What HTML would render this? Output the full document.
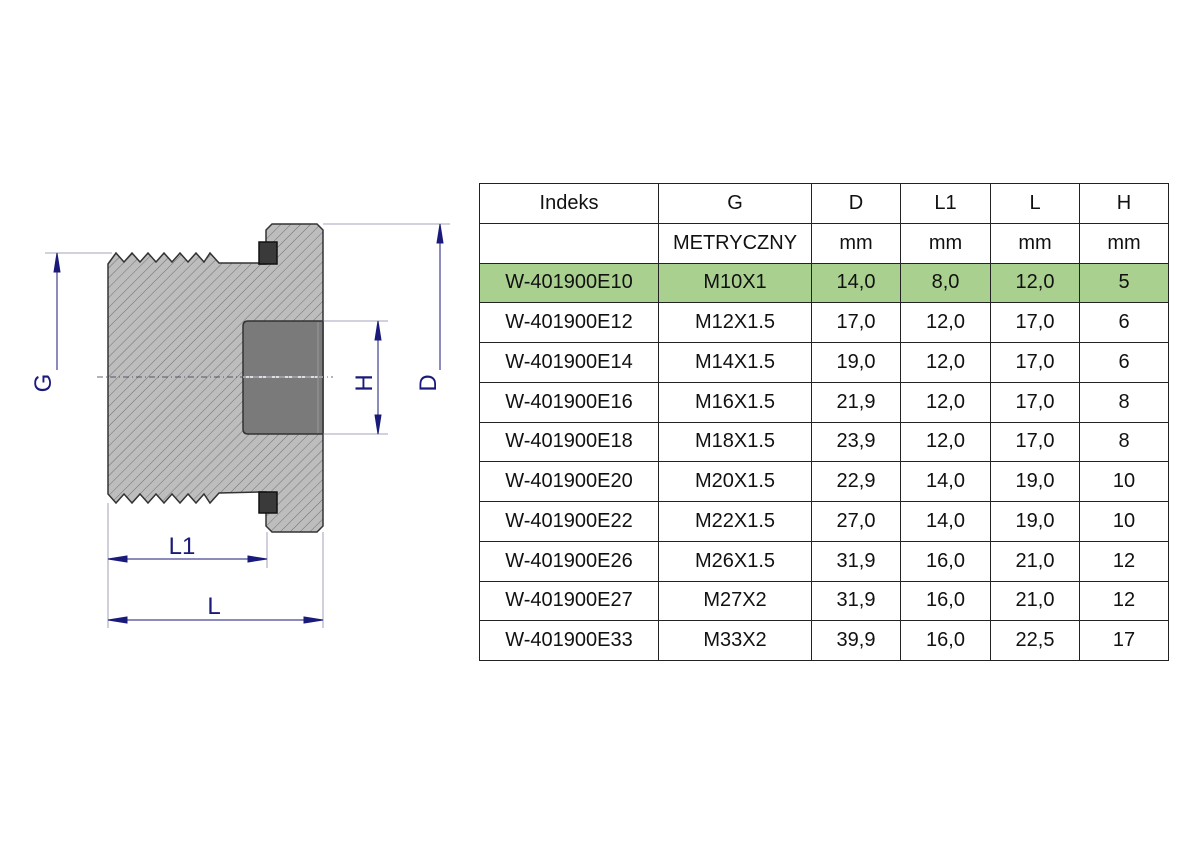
<!DOCTYPE html>
<html><head><meta charset="utf-8"><style>
html,body{margin:0;padding:0;background:#fff;}
body{width:1191px;height:842px;position:relative;overflow:hidden;font-family:"Liberation Sans",Arial,sans-serif;}
svg{position:absolute;left:0;top:0;}
table{position:absolute;left:479px;top:183px;border-collapse:collapse;table-layout:fixed;}
td{border:1.5px solid #222;height:38.75px;padding:0;text-align:center;font-size:20px;color:#111;white-space:nowrap;}
tr.g td{background:#a9d08e;}
</style></head><body>
<svg width="1191" height="842" viewBox="0 0 1191 842">
<defs>
<pattern id="h" patternUnits="userSpaceOnUse" width="7" height="7" patternTransform="rotate(45)">
<rect width="7" height="7" fill="#bdbdbd"/><line x1="0" y1="0" x2="0" y2="7" stroke="#666" stroke-width="0.9"/>
</pattern>
</defs>
<path d="M108,264 L116,253 L124,262 L132,253 L140,262 L148,253 L156,262 L164,253 L172,262 L180,253 L188,262 L196,253 L204,262 L210,253 L219,263 L259,263 L259,264 L266,264 L266,230 L272,224 L317,224 L323,230 L323,526 L317,532 L272,532 L266,526 L266,492 L259,492 L219,493 L210,503 L204,494 L196,503 L188,494 L180,503 L172,494 L164,503 L156,494 L148,503 L140,494 L132,503 L124,494 L116,503 L108,494 Z" fill="url(#h)" stroke="#333" stroke-width="1.5"/>
<rect x="259" y="242" width="18" height="22" fill="#3a3a3a" stroke="#111" stroke-width="1.5"/>
<rect x="259" y="492" width="18" height="21" fill="#3a3a3a" stroke="#111" stroke-width="1.5"/>
<path d="M323,321 L248,321 Q243,321 243,326 L243,429 Q243,434 248,434 L323,434 Z" fill="#7a7a7a" stroke="#333" stroke-width="1.5"/>
<line x1="243" y1="377" x2="323" y2="377" stroke="#ddd" stroke-width="2"/>
<line x1="318" y1="322" x2="318" y2="433" stroke="#999" stroke-width="1"/>
<line x1="97" y1="377" x2="333" y2="377" stroke="#335" stroke-width="0.8" stroke-dasharray="6,3,1,3"/>
<g stroke="#8888aa" stroke-width="0.8" fill="none">
<line x1="45" y1="253" x2="112" y2="253"/>
<line x1="323" y1="224" x2="450" y2="224"/>
<line x1="323" y1="321" x2="388" y2="321"/>
<line x1="323" y1="434" x2="388" y2="434"/>
<line x1="108" y1="503" x2="108" y2="628"/>
<line x1="267" y1="532" x2="267" y2="568"/>
<line x1="323" y1="532" x2="323" y2="628"/>
</g>
<g stroke="#1a1a7a" stroke-width="1" fill="#1a1a7a">
<line x1="57" y1="253" x2="57" y2="370"/>
<path d="M57,253 L54,272 L60,272 Z"/>
<line x1="440" y1="224" x2="440" y2="370"/>
<path d="M440,224 L437,243 L443,243 Z"/>
<line x1="378" y1="321" x2="378" y2="434"/>
<path d="M378,321 L375,340 L381,340 Z"/>
<path d="M378,434 L375,415 L381,415 Z"/>
<line x1="108" y1="559" x2="267" y2="559"/>
<path d="M108,559 L127,556 L127,562 Z"/>
<path d="M267,559 L248,556 L248,562 Z"/>
<line x1="108" y1="620" x2="323" y2="620"/>
<path d="M108,620 L127,617 L127,623 Z"/>
<path d="M323,620 L304,617 L304,623 Z"/>
</g>
<g fill="#1a1a7a" font-family="Liberation Sans, Arial, sans-serif" font-size="24">
<text x="182" y="554" text-anchor="middle">L1</text>
<text x="214" y="614" text-anchor="middle">L</text>
<text transform="translate(51,383) rotate(-90)" text-anchor="middle">G</text>
<text transform="translate(372,383) rotate(-90)" text-anchor="middle">H</text>
<text transform="translate(436,383) rotate(-90)" text-anchor="middle">D</text>
</g>
</svg>
<table>
<colgroup><col style="width:179px"><col style="width:153px"><col style="width:89px"><col style="width:90px"><col style="width:89px"><col style="width:89px"></colgroup>
<tr><td>Indeks</td><td>G</td><td>D</td><td>L1</td><td>L</td><td>H</td></tr>
<tr><td></td><td>METRYCZNY</td><td>mm</td><td>mm</td><td>mm</td><td>mm</td></tr>
<tr class="g"><td>W-401900E10</td><td>M10X1</td><td>14,0</td><td>8,0</td><td>12,0</td><td>5</td></tr>
<tr><td>W-401900E12</td><td>M12X1.5</td><td>17,0</td><td>12,0</td><td>17,0</td><td>6</td></tr>
<tr><td>W-401900E14</td><td>M14X1.5</td><td>19,0</td><td>12,0</td><td>17,0</td><td>6</td></tr>
<tr><td>W-401900E16</td><td>M16X1.5</td><td>21,9</td><td>12,0</td><td>17,0</td><td>8</td></tr>
<tr><td>W-401900E18</td><td>M18X1.5</td><td>23,9</td><td>12,0</td><td>17,0</td><td>8</td></tr>
<tr><td>W-401900E20</td><td>M20X1.5</td><td>22,9</td><td>14,0</td><td>19,0</td><td>10</td></tr>
<tr><td>W-401900E22</td><td>M22X1.5</td><td>27,0</td><td>14,0</td><td>19,0</td><td>10</td></tr>
<tr><td>W-401900E26</td><td>M26X1.5</td><td>31,9</td><td>16,0</td><td>21,0</td><td>12</td></tr>
<tr><td>W-401900E27</td><td>M27X2</td><td>31,9</td><td>16,0</td><td>21,0</td><td>12</td></tr>
<tr><td>W-401900E33</td><td>M33X2</td><td>39,9</td><td>16,0</td><td>22,5</td><td>17</td></tr>
</table>
</body></html>
